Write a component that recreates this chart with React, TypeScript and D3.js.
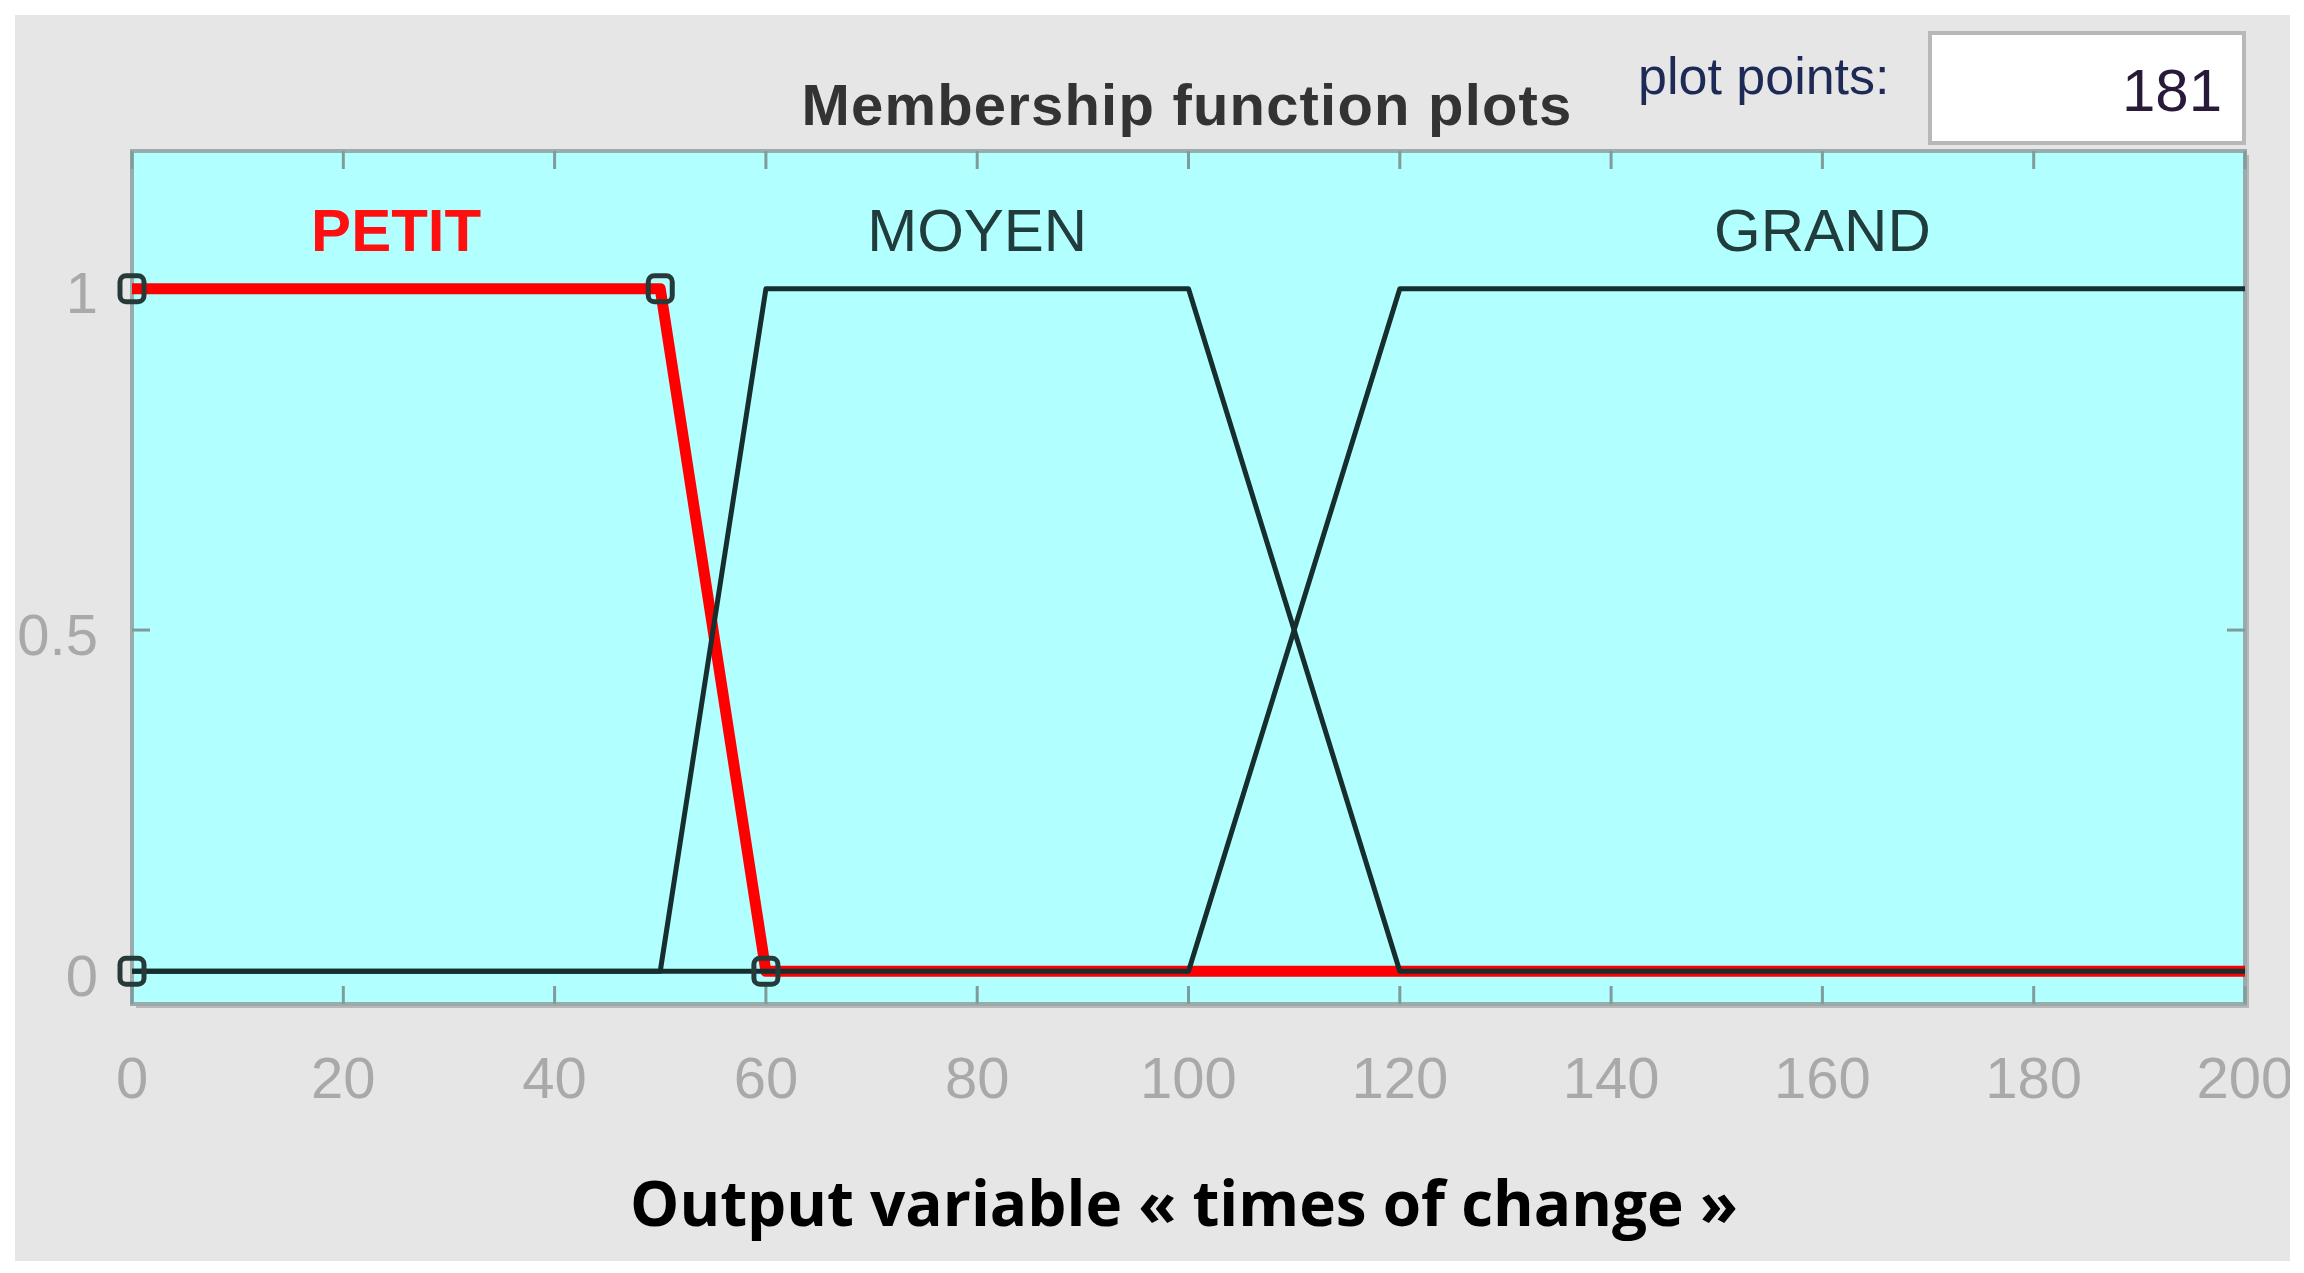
import React from "react";
import * as d3 from "d3";

// membership functions of the output variable (x, degree)
const xTicks = [0, 20, 40, 60, 80, 100, 120, 140, 160, 180, 200];
const yTicks = [0, 0.5, 1];
const mfNames = ["PETIT", "MOYEN", "GRAND"];
const petitPts: [number, number][] = [[0, 1], [50, 1], [60, 0], [200, 0]];
const moyenPts: [number, number][] = [[0, 0], [50, 0], [60, 1], [100, 1], [120, 0], [200, 0]];
const grandPts: [number, number][] = [[0, 0], [100, 0], [120, 1], [200, 1]];
const petitVertices: [number, number][] = [[0, 0], [0, 1], [50, 1], [60, 0]];
const plateauCenters = [25, 80, 160];
const plotPoints = "181";

const W = 2304;
const H = 1273;
const margin = { top: 151, right: 59, bottom: 269, left: 132 };

export default function App() {
  const innerW = W - margin.left - margin.right;
  const innerH = H - margin.top - margin.bottom;

  const x = d3.scaleLinear().domain([0, 200]).range([0, innerW]);
  const y = d3.scaleLinear().domain([-0.048, 1.202]).range([innerH, 0]);

  const line = d3.line<[number, number]>()
    .x(d => x(d[0]))
    .y(d => y(d[1]));

  const tickLen = 18;
  const tickColor = "#7f9c9c";
  const labelFont = "'Liberation Sans', Arial, sans-serif";

  return (
    <svg width={W} height={H} style={{ position: "absolute", left: 0, top: 0, background: "#fff" }}>
      <defs>
        <clipPath id="panel">
          <rect x={15} y={15} width={2275} height={1246} />
        </clipPath>
      </defs>
      <g clipPath="url(#panel)">
        <rect x={15} y={15} width={2275} height={1246} fill="#e6e6e6" />

        {/* title + plot points box */}
        <text x={1187} y={104} textAnchor="middle" dominantBaseline="central"
          fontFamily={labelFont} fontWeight="bold" fontSize={58} letterSpacing={1.2} fill="#333">
          Membership function plots
        </text>
        <text x={1638} y={76} dominantBaseline="central"
          fontFamily={labelFont} fontSize={52} fill="#1c2a55">
          plot points:
        </text>
        <rect x={1930} y={33} width={314} height={110} fill="#fff" stroke="#b8b8b8" strokeWidth={4} />
        <text x={2222} y={90} textAnchor="end" dominantBaseline="central"
          fontFamily={labelFont} fontSize={60} fill="#2a1a3a">
          {plotPoints}
        </text>

        <g transform={`translate(${margin.left},${margin.top})`}>
          {/* shadow + axes box */}
          <rect x={4} y={4} width={innerW} height={innerH} fill="#b8b8b8" />
          <rect x={0} y={0} width={innerW} height={innerH} fill="#b2ffff" stroke="#9aabab" strokeWidth={4} />

          {/* ticks */}
          {xTicks.map(t => (
            <g key={"xt" + t}>
              <line x1={x(t)} x2={x(t)} y1={0} y2={tickLen} stroke={tickColor} strokeWidth={3} />
              <line x1={x(t)} x2={x(t)} y1={innerH} y2={innerH - tickLen} stroke={tickColor} strokeWidth={3} />
              <text x={x(t)} y={innerH + 73} textAnchor="middle" dominantBaseline="central"
                fontFamily={labelFont} fontSize={58} fill="#a9a9a9">
                {t}
              </text>
            </g>
          ))}
          {yTicks.map(t => (
            <g key={"yt" + t}>
              <line x1={0} x2={tickLen} y1={y(t)} y2={y(t)} stroke={tickColor} strokeWidth={3} />
              <line x1={innerW} x2={innerW - tickLen} y1={y(t)} y2={y(t)} stroke={tickColor} strokeWidth={3} />
              <text x={-34} y={y(t) + 4} textAnchor="end" dominantBaseline="central"
                fontFamily={labelFont} fontSize={58} fill="#a9a9a9">
                {t}
              </text>
            </g>
          ))}

          {/* selected MF in red, others drawn over it */}
          <path d={line(petitPts) || ""} fill="none" stroke="#ff0000" strokeWidth={11}
            strokeLinejoin="round" />
          <path d={line(moyenPts) || ""} fill="none" stroke="#162e2e" strokeWidth={5}
            strokeLinejoin="round" />
          <path d={line(grandPts) || ""} fill="none" stroke="#162e2e" strokeWidth={5}
            strokeLinejoin="round" />
          {petitVertices.map((p, i) => (
            <rect key={"v" + i} x={x(p[0]) - 12} y={y(p[1]) - 13} width={24} height={26} rx={6}
              fill="none" stroke="#263a3a" strokeWidth={5} />
          ))}

          {mfNames.map((n, i) => (
            <text key={n} x={x(plateauCenters[i])} y={y(1.085)} textAnchor="middle" dominantBaseline="central"
              fontFamily={labelFont} fontSize={60} fontWeight={i === 0 ? "bold" : "normal"}
              fill={i === 0 ? "#ff1010" : "#203c3c"}>
              {n}
            </text>
          ))}
        </g>

        <text x={1184} y={1202} textAnchor="middle" dominantBaseline="central"
          fontFamily="'Open Sans', Lato, sans-serif" fontWeight={700} fontSize={62} fill="#000">
          Output variable « times of change »
        </text>
      </g>
    </svg>
  );
}
